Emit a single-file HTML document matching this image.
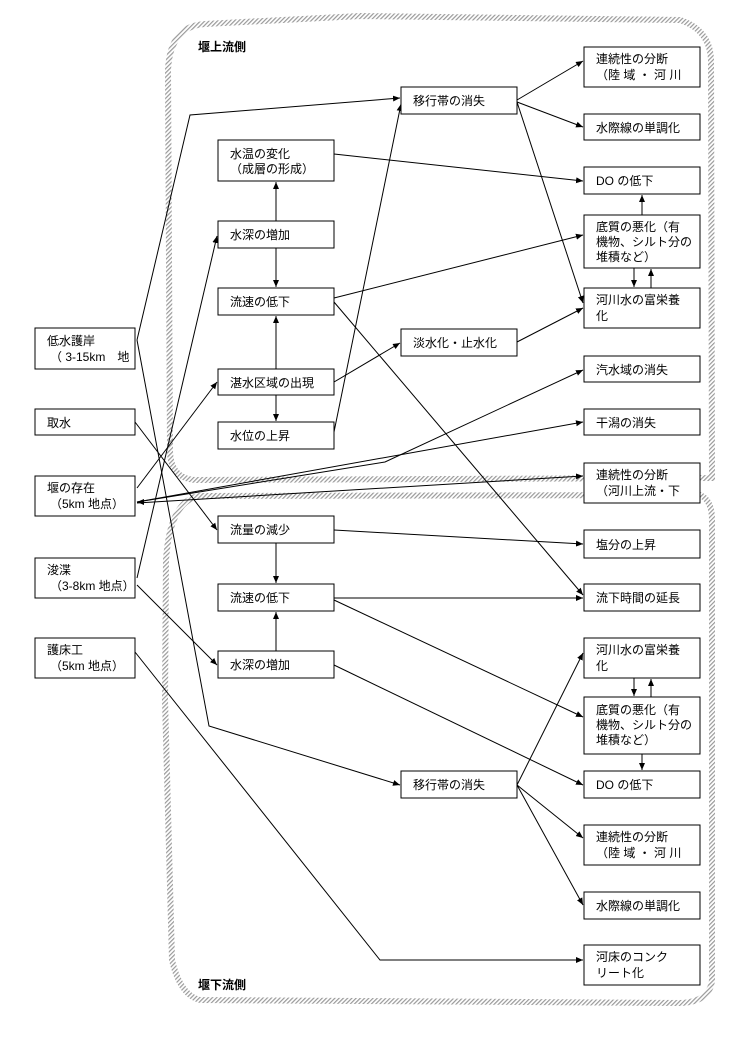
<!DOCTYPE html>
<html><head><meta charset="utf-8"><style>
html,body{margin:0;padding:0;background:#fff;}
svg{display:block;}
text{font-family:"Liberation Sans","Noto Sans CJK JP",sans-serif;font-size:12px;fill:#000;}
.b{fill:#fff;stroke:#000;stroke-width:1;}
.l{fill:none;stroke:#000;stroke-width:1;}
</style></head><body>
<svg width="741" height="1039" viewBox="0 0 741 1039" xmlns="http://www.w3.org/2000/svg">
<defs>
<pattern id="h" width="3" height="3" patternUnits="userSpaceOnUse" patternTransform="rotate(45)">
<rect width="3" height="3" fill="#fff"/><rect width="1.2" height="3" fill="#999"/>
</pattern>
<marker id="a" markerWidth="8" markerHeight="8" refX="7" refY="4" orient="auto" markerUnits="userSpaceOnUse">
<path d="M0,1 L7,4 L0,7 z" fill="#000"/></marker>
</defs>
<!-- hatched regions -->
<path d="M195,480 Q170,478 170,450 L168,70 Q170,26 205,24 L360,16 L680,20 Q710,30 711,60 L712,478 Z" fill="none" stroke="url(#h)" stroke-width="6"/>
<path d="M700,495 Q712,500 712,520 L712,980 Q710,1002 680,1003 L200,1000 Q180,995 172,960 L165,700 L166,560 Q170,500 200,496 Z" fill="none" stroke="url(#h)" stroke-width="6"/>
<text x="198" y="51" style="font-weight:bold;font-size:12px">堰上流側</text>
<text x="198" y="989" style="font-weight:bold;font-size:12px">堰下流側</text>

<!-- connectors -->
<g class="l" marker-end="url(#a)">
<polyline points="137,340 190,115 400,98"/>
<polyline points="137,340 209,726 400,785"/>
<line x1="135" y1="422" x2="217" y2="530"/>
<line x1="137" y1="488" x2="217" y2="382"/>
<line x1="137" y1="578" x2="217" y2="236"/>
<line x1="137" y1="585" x2="217" y2="665"/>
<polyline points="135,652 380,960 583,960"/>
<polyline points="137,502 385,462 583,370"/>
<line x1="137" y1="502" x2="583" y2="422"/>
<line x1="137" y1="503" x2="583" y2="476"/>
<line x1="276" y1="221" x2="276" y2="182"/>
<line x1="276" y1="248" x2="276" y2="287"/>
<line x1="276" y1="369" x2="276" y2="316"/>
<line x1="276" y1="395" x2="276" y2="421"/>
<line x1="334" y1="382" x2="400" y2="343"/>
<line x1="334" y1="432" x2="401" y2="104"/>
<line x1="334" y1="154" x2="583" y2="181"/>
<line x1="334" y1="298" x2="583" y2="235"/>
<line x1="334" y1="302" x2="583" y2="595"/>
<line x1="517" y1="100" x2="583" y2="61"/>
<line x1="517" y1="102" x2="583" y2="127"/>
<line x1="517" y1="102" x2="583" y2="303"/>
<line x1="517" y1="342" x2="583" y2="308"/>
<line x1="642" y1="215" x2="642" y2="195"/>
<line x1="634" y1="268" x2="634" y2="287"/>
<line x1="651" y1="288" x2="651" y2="269"/>
<line x1="334" y1="530" x2="583" y2="544"/>
<line x1="276" y1="543" x2="276" y2="583"/>
<line x1="276" y1="651" x2="276" y2="612"/>
<line x1="334" y1="598" x2="583" y2="598"/>
<line x1="334" y1="600" x2="583" y2="717"/>
<line x1="334" y1="665" x2="583" y2="785"/>
<line x1="517" y1="785" x2="583" y2="653"/>
<line x1="517" y1="785" x2="583" y2="838"/>
<line x1="517" y1="785" x2="583" y2="905"/>
<line x1="634" y1="678" x2="634" y2="696"/>
<line x1="651" y1="697" x2="651" y2="679"/>
<line x1="642" y1="754" x2="642" y2="770"/>
</g>
<path d="M137,502 L144,499 L144,505 z" fill="#000"/>

<!-- left boxes -->
<rect class="b" x="35" y="328" width="100" height="41"/><text x="47" y="345">低水護岸</text><text x="50" y="361">（ 3-15km　地</text>
<rect class="b" x="35" y="409" width="100" height="26"/><text x="47" y="427">取水</text>
<rect class="b" x="35" y="476" width="100" height="40"/><text x="47" y="492">堰の存在</text><text x="50" y="508">（5km 地点）</text>
<rect class="b" x="35" y="558" width="100" height="40"/><text x="47" y="574">浚渫</text><text x="50" y="590">（3-8km 地点）</text>
<rect class="b" x="35" y="638" width="100" height="40"/><text x="47" y="654">護床工</text><text x="50" y="670">（5km 地点）</text>

<!-- middle boxes -->
<rect class="b" x="218" y="140" width="116" height="41"/><text x="230" y="158">水温の変化</text><text x="230" y="173">（成層の形成）</text>
<rect class="b" x="218" y="221" width="116" height="27"/><text x="230" y="239">水深の増加</text>
<rect class="b" x="218" y="288" width="116" height="27"/><text x="230" y="306">流速の低下</text>
<rect class="b" x="218" y="369" width="116" height="26"/><text x="230" y="387">湛水区域の出現</text>
<rect class="b" x="218" y="422" width="116" height="27"/><text x="230" y="440">水位の上昇</text>
<rect class="b" x="218" y="516" width="116" height="27"/><text x="230" y="534">流量の減少</text>
<rect class="b" x="218" y="584" width="116" height="27"/><text x="230" y="602">流速の低下</text>
<rect class="b" x="218" y="651" width="116" height="27"/><text x="230" y="669">水深の増加</text>

<!-- third column -->
<rect class="b" x="401" y="87" width="116" height="27"/><text x="413" y="105">移行帯の消失</text>
<rect class="b" x="401" y="329" width="116" height="27"/><text x="413" y="347">淡水化・止水化</text>
<rect class="b" x="401" y="771" width="116" height="27"/><text x="413" y="789">移行帯の消失</text>

<!-- right column -->
<rect class="b" x="584" y="47" width="116" height="40"/><text x="596" y="63">連続性の分断</text><text x="596" y="79">（陸 域 ・ 河 川</text>
<rect class="b" x="584" y="114" width="116" height="26"/><text x="596" y="132">水際線の単調化</text>
<rect class="b" x="584" y="167" width="116" height="27"/><text x="596" y="185">DO の低下</text>
<rect class="b" x="584" y="215" width="116" height="53"/><text x="596" y="231">底質の悪化（有</text><text x="596" y="246">機物、シルト分の</text><text x="596" y="261">堆積など）</text>
<rect class="b" x="584" y="288" width="116" height="40"/><text x="596" y="304">河川水の富栄養</text><text x="596" y="320">化</text>
<rect class="b" x="584" y="356" width="116" height="26"/><text x="596" y="374">汽水域の消失</text>
<rect class="b" x="584" y="409" width="116" height="26"/><text x="596" y="427">干潟の消失</text>
<rect class="b" x="584" y="463" width="116" height="40"/><text x="596" y="479">連続性の分断</text><text x="596" y="495">（河川上流・下</text>
<rect class="b" x="584" y="530" width="116" height="28"/><text x="596" y="549">塩分の上昇</text>
<rect class="b" x="584" y="584" width="116" height="27"/><text x="596" y="602">流下時間の延長</text>
<rect class="b" x="584" y="638" width="116" height="40"/><text x="596" y="654">河川水の富栄養</text><text x="596" y="670">化</text>
<rect class="b" x="584" y="697" width="116" height="57"/><text x="596" y="714">底質の悪化（有</text><text x="596" y="729">機物、シルト分の</text><text x="596" y="744">堆積など）</text>
<rect class="b" x="584" y="771" width="116" height="27"/><text x="596" y="789">DO の低下</text>
<rect class="b" x="584" y="825" width="116" height="40"/><text x="596" y="841">連続性の分断</text><text x="596" y="857">（陸 域 ・ 河 川</text>
<rect class="b" x="584" y="892" width="116" height="27"/><text x="596" y="910">水際線の単調化</text>
<rect class="b" x="584" y="945" width="116" height="40"/><text x="596" y="961">河床のコンク</text><text x="596" y="977">リート化</text>
</svg>
</body></html>
